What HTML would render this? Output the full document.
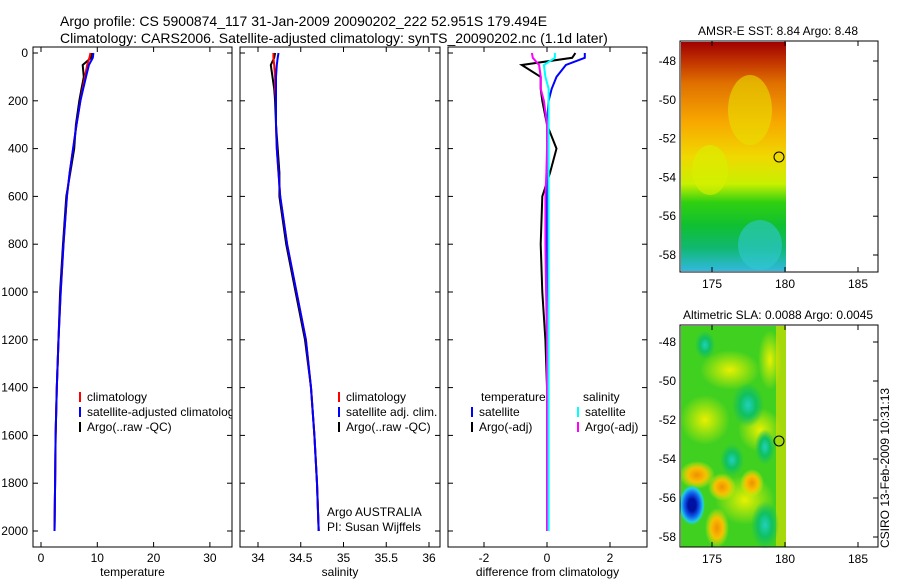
<!DOCTYPE html>
<html><head><meta charset="utf-8"><style>
body{margin:0;background:#fff}
svg{display:block;font-family:"Liberation Sans",sans-serif}
</style></head><body>
<svg id="c" width="900" height="580" viewBox="0 0 900 580">
<defs>
<clipPath id="clip1"><rect x="33" y="47" width="199" height="500"/></clipPath>
<linearGradient id="sst" x1="0" y1="0" x2="0" y2="1">
<stop offset="0" stop-color="#a00000"/><stop offset="0.08" stop-color="#c03000"/><stop offset="0.18" stop-color="#e07000"/><stop offset="0.35" stop-color="#f8a800"/><stop offset="0.5" stop-color="#f0d800"/><stop offset="0.62" stop-color="#c8f000"/><stop offset="0.7" stop-color="#30d010"/><stop offset="0.8" stop-color="#10c030"/><stop offset="0.9" stop-color="#10b870"/><stop offset="1" stop-color="#30b8e0"/>
</linearGradient>
<radialGradient id="bb"><stop offset="0.3" stop-color="#0010a0"/><stop offset="0.6" stop-color="#1060f0"/><stop offset="0.85" stop-color="#20d0e0"/><stop offset="1" stop-color="#20d0e0" stop-opacity="0"/></radialGradient>
<radialGradient id="cb"><stop offset="0" stop-color="#20d0c0"/><stop offset="0.5" stop-color="#10c060"/><stop offset="1" stop-color="#10c060" stop-opacity="0"/></radialGradient>
<radialGradient id="ob"><stop offset="0" stop-color="#f09000"/><stop offset="0.5" stop-color="#f8c000"/><stop offset="1" stop-color="#f0f000" stop-opacity="0"/></radialGradient>
<radialGradient id="yb"><stop offset="0" stop-color="#e8f000"/><stop offset="1" stop-color="#e8f000" stop-opacity="0"/></radialGradient>
</defs>
<text x="60" y="26" font-size="14">Argo profile: CS 5900874_117 31-Jan-2009 20090202_222 52.951S 179.494E</text>
<text x="60" y="43" font-size="14">Climatology: CARS2006. Satellite-adjusted climatology: synTS_20090202.nc (1.1d later)</text>
<g id="g"></g>
<text transform="translate(889,548) rotate(-90)" font-size="12">CSIRO 13-Feb-2009 10:31:13</text>
</svg>
<script>
const NS="http://www.w3.org/2000/svg";
const depth=[0,20,50,100,150,200,300,400,500,600,800,1000,1200,1400,1600,1800,2000];
const tempClim=[8.8,8.6,8.2,7.8,7.4,7.0,6.3,5.7,5.1,4.6,4.0,3.5,3.1,2.8,2.6,2.5,2.4];
const tempSat=[9.3,9.2,8.5,8.0,7.5,7.0,6.3,5.7,5.1,4.6,4.0,3.5,3.1,2.8,2.6,2.5,2.4];
const tempArgo=[9.0,8.9,7.4,7.6,7.2,6.8,6.2,5.9,5.2,4.5,3.9,3.4,3.1,2.8,2.6,2.5,2.4];
const salClim=[34.18,34.18,34.19,34.2,34.2,34.21,34.21,34.22,34.24,34.26,34.34,34.45,34.56,34.62,34.66,34.69,34.71];
const salSat=[34.24,34.23,34.22,34.21,34.21,34.21,34.21,34.22,34.24,34.26,34.34,34.45,34.56,34.62,34.66,34.69,34.71];
const salArgo=[34.2,34.19,34.15,34.17,34.19,34.2,34.21,34.23,34.25,34.25,34.33,34.44,34.55,34.62,34.66,34.69,34.71];
const dTempSat=[1.2,1.2,0.6,0.3,0.15,0.05,0,0,0,0,0,0,0,0,0,0,0];
const dTempArgo=[0.9,0.8,-0.8,-0.2,-0.2,-0.15,0,0.3,0.1,-0.15,-0.2,-0.15,-0.05,0,0,0,0];
const dSalSat=[0.25,0.25,-0.1,-0.05,0.05,0.05,0.05,0.05,0.05,0.05,0.05,0.05,0.05,0.05,0.05,0.05,0.05];
const dSalArgo=[-0.48,-0.45,-0.25,-0.2,-0.2,-0.1,0,0,-0.02,-0.05,-0.05,-0.03,0,0,0,0,0];
const depthTicks=[0,200,400,600,800,1000,1200,1400,1600,1800,2000];
const tTicks=[0,10,20,30], sTicks=[34,34.5,35,35.5,36], dTicks=[-2,0,2];
const latTicks=[-48,-50,-52,-54,-56,-58], lonTicks=[175,180,185];
const g=document.getElementById('g');
function el(t,a,txt){const e=document.createElementNS(NS,t);for(const k in a)e.setAttribute(k,a[k]);if(txt!==undefined)e.textContent=txt;g.appendChild(e);return e;}
const yD=d=>53+d*0.239;
function panel(name,x0,x1,xf,ticks,label,yl){
  const b=el('rect',{x:x0,y:47,width:x1-x0,height:500,fill:'none',stroke:'#000'});
  
  
  ticks.forEach(v=>{const x=xf(v);
    el('line',{x1:x,x2:x,y1:547,y2:542,stroke:'#000'});el('line',{x1:x,x2:x,y1:47,y2:52,stroke:'#000'});
    const t=el('text',{x:x,y:562,'font-size':12,'text-anchor':'middle'},String(v));
    
    });
  depthTicks.forEach(d=>{const y=yD(d);
    el('line',{x1:x0,x2:x0+5,y1:y,y2:y,stroke:'#000'});el('line',{x1:x1-5,x2:x1,y1:y,y2:y,stroke:'#000'});
    if(yl){const t=el('text',{x:x0-5,y:y+4,'font-size':12,'text-anchor':'end'},String(d));
      
      }});
  const t=el('text',{x:(x0+x1)/2,y:576,'font-size':12,'text-anchor':'middle'},label);
  
  
}
function line(name,vals,xf,col,w){
  const p=el('path',{d:vals.map((v,i)=>(i?'L':'M')+xf(v).toFixed(1)+','+yD(depth[i]).toFixed(1)).join(''),fill:'none',stroke:col,'stroke-width':w||2});
  
  
}
function legend(name,x,y,col,txt,clip){
  el('line',{x1:x,x2:x,y1:y-9,y2:y+1,stroke:col,'stroke-width':2});
  const a={x:x+7,y:y,'font-size':12};if(clip)a['clip-path']='url(#clip1)';
  const t=el('text',a,txt);
  
  
}
const xT=v=>41+v*5.63, xS=v=>258+(v-34)*85.5, xDf=v=>547+v*31.5;
panel('temperature',33,232,xT,tTicks,'temperature',true);
line('temp-argo-line',tempArgo,xT,'#000');line('temp-climatology-line',tempClim,xT,'#f00');line('temp-satellite-line',tempSat,xT,'#00f');
legend('legend-climatology',80,401,'#f00','climatology',true);
legend('legend-satellite-adjusted',80,416,'#00f','satellite-adjusted climatology',true);
legend('legend-argo-raw',80,431,'#000','Argo(..raw -QC)',true);
panel('salinity',240,440,xS,sTicks,'salinity',false);
line('sal-argo-line',salArgo,xS,'#000');line('sal-climatology-line',salClim,xS,'#f00');line('sal-satellite-line',salSat,xS,'#00f');
legend('legend-sal-climatology',339,401,'#f00','climatology');
legend('legend-sal-satellite',339,416,'#00f','satellite adj. clim.');
legend('legend-sal-argo',339,431,'#000','Argo(..raw -QC)');
el('text',{x:327,y:516,'font-size':12},'Argo AUSTRALIA');
el('text',{x:327,y:531,'font-size':12},'PI: Susan Wijffels');
panel('difference',448,647,xDf,dTicks,'difference from climatology',false);
line('diff-temp-argo-line',dTempArgo,xDf,'#000');line('diff-temp-sat-line',dTempSat,xDf,'#00f');
line('diff-sal-argo-line',dSalArgo,xDf,'#f0f');line('diff-sal-sat-line',dSalSat,xDf,'#0ff');
el('text',{x:481,y:401,'font-size':12},'temperature');el('text',{x:583,y:401,'font-size':12},'salinity');
legend('legend-diff-temp-sat',472,416,'#00f','satellite');legend('legend-diff-sal-sat',578,416,'#0ff','satellite');
legend('legend-diff-temp-argo',472,431,'#000','Argo(-adj)');legend('legend-diff-sal-argo',578,431,'#f0f','Argo(-adj)');
function mapAxes(name,y0,y1,latY,title){
  const lonX=v=>712+(v-175)*14.6;
  el('text',{x:778,y:y0-6,'font-size':12,'text-anchor':'middle'},title);
  const r=el('rect',{x:680,y:y0,width:198,height:y1-y0,fill:'none',stroke:'#000'});
  
  
  lonTicks.forEach(v=>{const x=lonX(v);el('line',{x1:x,x2:x,y1:y1,y2:y1-5,stroke:'#000'});el('line',{x1:x,x2:x,y1:y0,y2:y0+5,stroke:'#000'});
    el('text',{x:x,y:y1+16,'font-size':12,'text-anchor':'middle'},String(v));});
  latTicks.forEach(v=>{const y=latY(v);el('line',{x1:878,x2:873,y1:y,y2:y,stroke:'#000'});
    el('text',{x:676,y:y+4,'font-size':12,'text-anchor':'end'},String(v));});
}
const lat1=v=>61+(-48-v)*19.4, lat2=v=>342+(-48-v)*19.5;
const m1=el('rect',{x:681,y:42,width:105,height:229,fill:'url(#sst)'});


el('ellipse',{cx:750,cy:110,rx:22,ry:35,fill:'#e8e000',opacity:0.6});
el('ellipse',{cx:710,cy:170,rx:18,ry:25,fill:'#d8f000',opacity:0.6});
el('ellipse',{cx:760,cy:245,rx:22,ry:25,fill:'#30c8d0',opacity:0.6});
el('circle',{cx:779,cy:157,r:5,fill:'none',stroke:'#000'});
mapAxes('sst-map',41,272,lat1,'AMSR-E SST: 8.84  Argo: 8.48');
const m2=el('rect',{x:681,y:326,width:105,height:221,fill:'#40d020'});


[[730,370,30,20],[705,420,25,25],[760,430,22,22],[770,360,12,30],[745,500,30,25]].forEach(a=>el('ellipse',{cx:a[0],cy:a[1],rx:a[2],ry:a[3],fill:'url(#yb)'}));
el('rect',{x:776,y:326,width:10,height:220,fill:'#e8e000',opacity:0.6});
[[697,475,18,14],[722,487,14,14],[752,483,12,14],[717,528,12,20]].forEach(a=>el('ellipse',{cx:a[0],cy:a[1],rx:a[2],ry:a[3],fill:'url(#ob)'}));
[[748,405,16,22],[732,460,12,16],[765,447,10,18],[765,525,14,24],[705,345,10,14]].forEach(a=>el('ellipse',{cx:a[0],cy:a[1],rx:a[2],ry:a[3],fill:'url(#cb)'}));
el('ellipse',{cx:692,cy:505,rx:13,ry:20,fill:'url(#bb)'});
el('circle',{cx:779,cy:441,r:5,fill:'none',stroke:'#000'});
mapAxes('sla-map',325,547,lat2,'Altimetric SLA: 0.0088  Argo: 0.0045');
</script>
</body></html>
